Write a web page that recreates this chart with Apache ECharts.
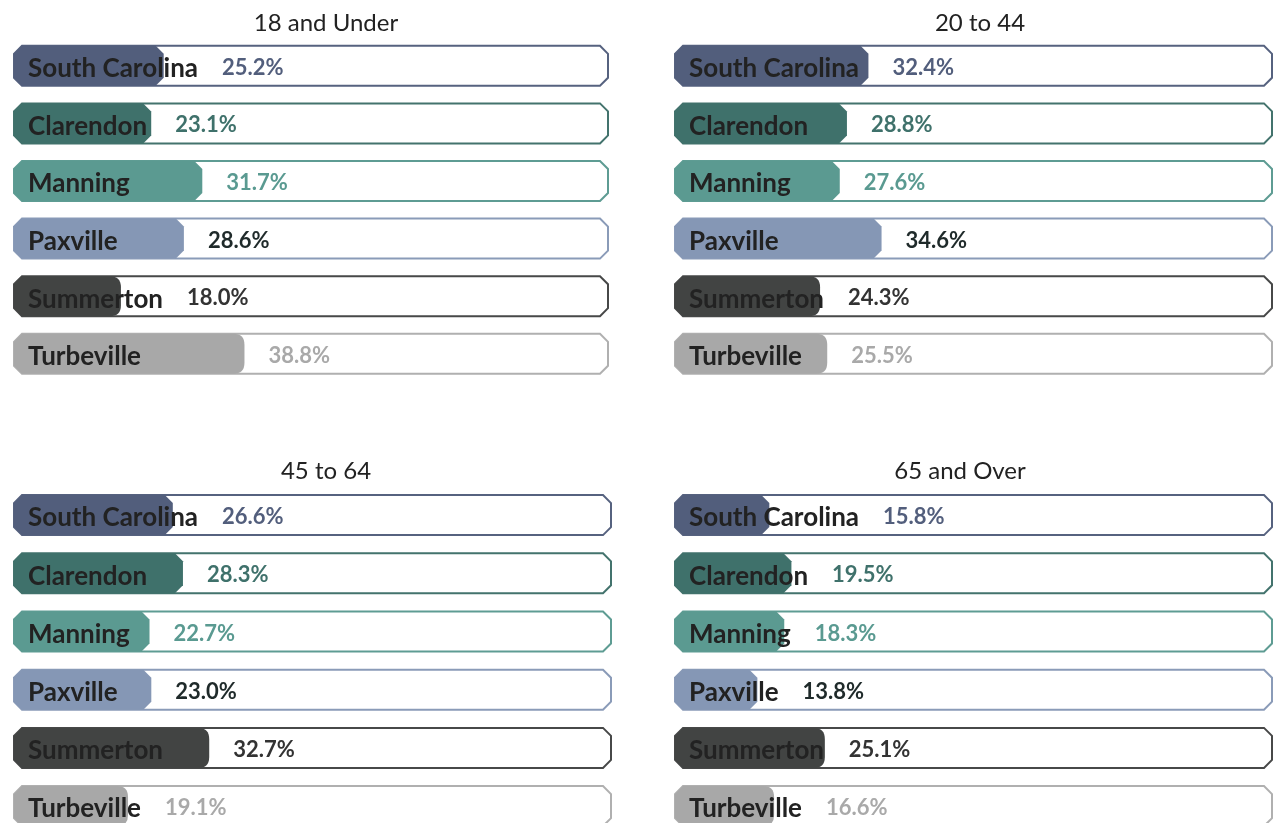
<!DOCTYPE html>
<html>
<head>
<meta charset="utf-8">
<script src="https://cdn.jsdelivr.net/npm/echarts@6/dist/echarts.min.js"></script>
<style>
html,body{margin:0;padding:0;background:#fff;}
#chart{width:1278px;height:823px;}
</style>
</head>
<body>
<div id="chart"></div>
<script>
// ---- data ----
const categories = ['South Carolina', 'Clarendon', 'Manning', 'Paxville', 'Summerton', 'Turbeville'];
const panelTitles = ['18 and Under', '20 to 44', '45 to 64', '65 and Over'];
const under18 = [25.2, 23.1, 31.7, 28.6, 18.0, 38.8];
const age20to44 = [32.4, 28.8, 27.6, 34.6, 24.3, 25.5];
const age45to64 = [26.6, 28.3, 22.7, 23.0, 32.7, 19.1];
const age65over = [15.8, 19.5, 18.3, 13.8, 25.1, 16.6];
const panelValues = [under18, age20to44, age45to64, age65over];

// ---- styles ----
const fillColors = ['#525e7c', '#3f716b', '#5b9a91', '#8597b5', '#424443', '#a8a8a8'];
const frameColors = ['#56627f', '#43736d', '#5e9c93', '#8a9bb8', '#474848', '#b0b0b0'];
const valueColors = ['#525e7c', '#3f716b', '#5a9a91', '#1f2a2a', '#333333', '#a9a9a9'];
const roundEnd = [false, false, false, false, true, true];
const FONT = 'Lato, "Noto Sans", sans-serif';
const NAME_SIZE = 26, VALUE_SIZE = 22;
const NAME_WEIGHT = 'bold', VALUE_WEIGHT = 'bold';

// panel boxes (row spacing 57.6 on top, 58.2 on bottom)
const grids = [
  {left: 14, top: 37, width: 594, height: 346, spacing: 57.6},
  {left: 675, top: 37, width: 597, height: 346, spacing: 57.6},
  {left: 14, top: 486, width: 597, height: 337, spacing: 58.2},
  {left: 675, top: 486, width: 597, height: 337, spacing: 58.2}
];
const titlePos = [
  {x: 321, y: 6}, {x: 975, y: 6}, {x: 321, y: 454}, {x: 955, y: 454}
];

const measureCtx = document.createElement('canvas').getContext('2d');
function textWidth(t, size, weight) {
  measureCtx.font = weight + ' ' + size + 'px ' + FONT;
  return measureCtx.measureText(t).width;
}

function chamfer(x0, y0, x1, y1, c) {
  return [[x0 + c, y0], [x1 - c, y0], [x1, y0 + c], [x1, y1 - c], [x1 - c, y1], [x0 + c, y1], [x0, y1 - c], [x0, y0 + c]];
}

function renderItem(params, api) {
  const idx = api.value(1);
  const val = api.value(0);
  const start = api.coord([0, idx]);
  const end = api.coord([val, idx]);
  const full = api.coord([100, idx]);
  const yc = start[1];
  const h = 40, c = 8;
  const y0 = yc - h / 2, y1 = yc + h / 2;
  const x0 = start[0], xe = end[0], x1 = full[0];
  const children = [];
  children.push({
    type: 'polygon',
    shape: {points: chamfer(x0, y0, x1, y1, c)},
    style: {fill: '#ffffff', stroke: frameColors[idx], lineWidth: 2}
  });
  if (roundEnd[idx]) {
    const r = 11;
    children.push({
      type: 'path',
      shape: {
        pathData: 'M' + (x0 + c) + ' ' + y0 + ' L' + (xe - r) + ' ' + y0 +
          ' Q' + xe + ' ' + y0 + ' ' + xe + ' ' + (y0 + r) +
          ' L' + xe + ' ' + (y1 - r) +
          ' Q' + xe + ' ' + y1 + ' ' + (xe - r) + ' ' + y1 +
          ' L' + (x0 + c) + ' ' + y1 + ' L' + x0 + ' ' + (y1 - c) + ' L' + x0 + ' ' + (y0 + c) + ' Z'
      },
      style: {fill: fillColors[idx]}
    });
  } else {
    children.push({
      type: 'polygon',
      shape: {points: chamfer(x0, y0, xe, y1, c)},
      style: {fill: fillColors[idx]}
    });
  }
  const name = categories[idx];
  const nameX = x0 + 14;
  children.push({
    type: 'text',
    style: {text: name, x: nameX, y: yc + 3, fill: '#222222', fontSize: NAME_SIZE, fontFamily: FONT, fontWeight: NAME_WEIGHT, align: 'left', verticalAlign: 'middle'}
  });
  const nameEnd = nameX + textWidth(name, NAME_SIZE, NAME_WEIGHT);
  const vx = Math.max(nameEnd, xe) + 24;
  children.push({
    type: 'text',
    style: {text: val.toFixed(1) + '%', x: vx, y: yc + 2, fill: valueColors[idx], fontSize: VALUE_SIZE, fontFamily: FONT, fontWeight: VALUE_WEIGHT, align: 'left', verticalAlign: 'middle'}
  });
  return {type: 'group', children: children};
}

const option = {
  animation: false,
  backgroundColor: '#ffffff',
  title: panelTitles.map((t, i) => ({
    text: t, left: titlePos[i].x, top: titlePos[i].y, textAlign: 'center',
    textStyle: {fontFamily: FONT, fontSize: 24, fontWeight: 'normal', color: '#222222'}
  })),
  grid: grids.map(g => ({left: g.left, top: g.top, width: g.width, height: g.height, containLabel: false})),
  xAxis: grids.map((g, i) => ({type: 'value', gridIndex: i, min: 0, max: 100, show: false})),
  // row index axis: rows sit at 0..5, half a row of padding above the first
  yAxis: grids.map((g, i) => ({
    type: 'value', gridIndex: i, inverse: true, show: false,
    min: -0.5, max: -0.5 + g.height / g.spacing
  })),
  series: panelValues.map((vals, i) => ({
    type: 'custom',
    name: panelTitles[i],
    xAxisIndex: i,
    yAxisIndex: i,
    clip: false,
    renderItem: renderItem,
    encode: {x: 0, y: 1},
    data: vals.map((v, j) => [v, j])
  }))
};

const chart = echarts.init(document.getElementById('chart'), null, {renderer: 'canvas'});
chart.setOption(option);
</script>
</body>
</html>
